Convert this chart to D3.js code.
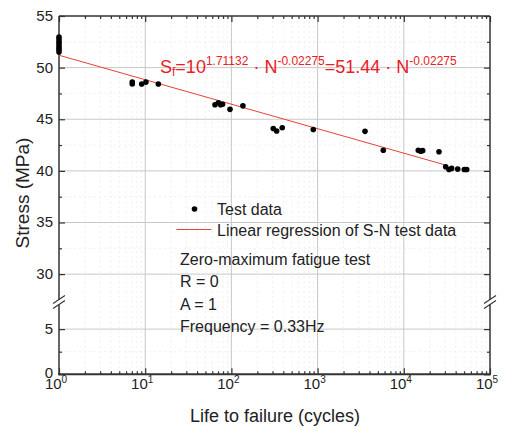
<!DOCTYPE html>
<html lang="en">
<head>
    <meta charset="UTF-8">
    <title>S-N curve</title>
    <style>
        body { margin: 0; background: #fff; }
        svg text { font-family: "Liberation Sans", Arial, sans-serif; fill: #222; }
    </style>
</head>
<body>
<div id="chart"></div>
<script src="https://cdn.jsdelivr.net/npm/d3@7"></script>
<script>
    // 数据部分
    var decades = [1, 10, 100, 1000, 10000, 100000];
    var yUpperTicks = [30, 35, 40, 45, 50, 55];
    var yLowerTicks = [0, 5];
    var testN = [1, 1, 1, 1, 1, 1, 1, 7.08, 7.08, 9.1, 10.2, 14.2, 64.5, 70.5, 75, 79, 96.3, 136,
        306, 335, 389, 891, 3548, 5780, 14730, 15700, 16560, 25600, 30600, 33400, 35900, 42200, 50300, 53700];
    var testS = [52.95, 52.7, 52.45, 52.2, 51.95, 51.75, 51.52, 48.6, 48.42, 48.41, 48.6, 48.41, 46.4, 46.6, 46.4, 46.45, 45.96, 46.3,
        44.1, 43.86, 44.18, 44.0, 43.83, 42.0, 42.0, 41.9, 41.96, 41.85, 40.4, 40.14, 40.24, 40.17, 40.14, 40.14];
    var fitN = [1, 31000];
    var fitS = [51.2, 40.55];

    var W = 505, H = 427;
    var pLeft = 59, pRight = 490, pTop = 16, pBottom = 374.3, breakY = 302;

    var svg = d3.select("#chart").append("svg").attr("width", W).attr("height", H);

    var x = d3.scaleLog().domain([1, 100000]).range([pLeft, pRight]);
    var yUp = d3.scaleLinear().domain([27.3, 55]).range([breakY, pTop]);
    var yLow = d3.scaleLinear().domain([0, 8]).range([pBottom, breakY]);
    function y(v) { return v >= 20 ? yUp(v) : yLow(v); }

    var minorX = [];
    decades.slice(0, -1).forEach(function (d) {
        for (var k = 2; k < 10; k++) minorX.push(d * k);
    });
    var minorY = [32.5, 37.5, 42.5, 47.5, 52.5, 2.5];

    // 网格
    var grid = svg.append("g");
    grid.selectAll("line.mx").data(minorX).enter().append("line")
        .attr("x1", x).attr("x2", x).attr("y1", pTop).attr("y2", pBottom)
        .attr("stroke", "#ececec").attr("stroke-width", 0.8).attr("stroke-dasharray", "2,3");
    grid.selectAll("line.my").data(minorY).enter().append("line")
        .attr("x1", pLeft).attr("x2", pRight).attr("y1", y).attr("y2", y)
        .attr("stroke", "#ececec").attr("stroke-width", 0.8).attr("stroke-dasharray", "2,3");
    grid.selectAll("line.gx").data(decades.slice(1, -1)).enter().append("line")
        .attr("x1", x).attr("x2", x).attr("y1", pTop).attr("y2", pBottom)
        .attr("stroke", "#c8c8c8").attr("stroke-width", 1);
    grid.selectAll("line.gy").data(yUpperTicks.slice(0, -1).concat([5])).enter().append("line")
        .attr("x1", pLeft).attr("x2", pRight).attr("y1", y).attr("y2", y)
        .attr("stroke", "#c8c8c8").attr("stroke-width", 1);

    // 坐标轴（刻度朝内）
    var axisColor = "#333";
    svg.append("g").attr("transform", "translate(0," + pBottom + ")")
        .call(d3.axisBottom(x).tickValues(decades).tickSize(-6).tickFormat(""));
    svg.append("g").attr("transform", "translate(0," + pBottom + ")")
        .call(d3.axisBottom(x).tickValues(minorX).tickSize(-3).tickFormat(""));
    svg.append("g").attr("transform", "translate(0," + pTop + ")")
        .call(d3.axisTop(x).tickValues(decades).tickSize(-6).tickFormat(""));
    svg.append("g").attr("transform", "translate(0," + pTop + ")")
        .call(d3.axisTop(x).tickValues(minorX).tickSize(-3).tickFormat(""));

    function yAxes(scale, ticks, minors, side) {
        var pos = side === "left" ? pLeft : pRight;
        var mk = side === "left" ? d3.axisLeft : d3.axisRight;
        svg.append("g").attr("transform", "translate(" + pos + ",0)")
            .call(mk(scale).tickValues(ticks).tickSize(-6).tickFormat(""));
        svg.append("g").attr("transform", "translate(" + pos + ",0)")
            .call(mk(scale).tickValues(minors).tickSize(-3).tickFormat(""));
    }
    ["left", "right"].forEach(function (s) {
        yAxes(yUp, yUpperTicks, minorY.slice(0, 5), s);
        yAxes(yLow, yLowerTicks, [2.5], s);
    });
    svg.selectAll(".domain").remove();
    svg.selectAll(".tick line").attr("stroke", axisColor).attr("stroke-width", 1.2);

    // 边框（左右轴在断点处断开）
    var gap = 2.5;
    var frame = svg.append("g").attr("stroke", axisColor).attr("fill", "none");
    frame.append("line").attr("x1", pLeft).attr("x2", pRight).attr("y1", pTop).attr("y2", pTop).attr("stroke-width", 1.5);
    frame.append("line").attr("x1", pLeft - 1).attr("x2", pRight + 1).attr("y1", pBottom).attr("y2", pBottom).attr("stroke-width", 2);
    [pLeft, pRight].forEach(function (px) {
        frame.append("line").attr("x1", px).attr("x2", px).attr("y1", pTop).attr("y2", breakY - gap).attr("stroke-width", 1.5);
        frame.append("line").attr("x1", px).attr("x2", px).attr("y1", breakY + gap).attr("y2", pBottom).attr("stroke-width", 1.5);
        [-gap, gap].forEach(function (o) {
            frame.append("line")
                .attr("x1", px - 6).attr("y1", breakY + o + 4)
                .attr("x2", px + 6).attr("y2", breakY + o - 4)
                .attr("stroke-width", 1.2);
        });
    });

    // 刻度标签
    svg.append("g").selectAll("text").data(yUpperTicks.concat(yLowerTicks)).enter().append("text")
        .attr("x", pLeft - 6).attr("y", function (d) { return y(d) + (d === 0 ? 4 : 5); })
        .attr("text-anchor", "end").attr("font-size", 15).text(function (d) { return d; });
    var xl = svg.append("g").selectAll("text").data(decades).enter().append("text")
        .attr("x", function (d) { return x(d) - 3; }).attr("y", pBottom + 15)
        .attr("text-anchor", "middle").attr("font-size", 15);
    xl.append("tspan").text("10");
    xl.append("tspan").attr("dy", -6).attr("font-size", 10).text(function (d) { return Math.round(Math.log10(d)); });

    svg.append("text").attr("x", 275).attr("y", 422).attr("text-anchor", "middle")
        .attr("font-size", 18).text("Life to failure (cycles)");
    svg.append("text").attr("transform", "translate(29,193) rotate(-90)").attr("text-anchor", "middle")
        .attr("font-size", 19).text("Stress (MPa)");

    // 回归线
    var line = d3.line().x(function (d) { return x(d[0]); }).y(function (d) { return y(d[1]); });
    svg.append("path").datum(d3.zip(fitN, fitS)).attr("d", line)
        .attr("stroke", "#e8413b").attr("stroke-width", 1).attr("fill", "none");

    // 数据点
    svg.append("g").selectAll("circle").data(d3.zip(testN, testS)).enter().append("circle")
        .attr("cx", function (d) { return x(d[0]); }).attr("cy", function (d) { return y(d[1]); })
        .attr("r", 2.8).attr("fill", "#000");

    // 公式
    var red = "#e8201f";
    var eq = svg.append("text").attr("x", 160).attr("y", 73).attr("font-size", 18).style("fill", red);
    eq.append("tspan").text("S");
    eq.append("tspan").attr("font-size", 12).attr("dy", 3).text("f");
    eq.append("tspan").attr("dy", -3).text("=10");
    eq.append("tspan").attr("font-size", 12).attr("dy", -8).text("1.71132");
    eq.append("tspan").attr("dy", 8).text(" \u00b7 N");
    eq.append("tspan").attr("font-size", 12).attr("dy", -8).text("-0.02275");
    eq.append("tspan").attr("dy", 8).text("=51.44 \u00b7 N");
    eq.append("tspan").attr("font-size", 12).attr("dy", -8).text("-0.02275");

    // 图例
    svg.append("circle").attr("cx", 194.5).attr("cy", 209).attr("r", 2.8).attr("fill", "#000");
    svg.append("text").attr("x", 217).attr("y", 215).attr("font-size", 16).text("Test data");
    svg.append("line").attr("x1", 176.5).attr("x2", 211.5).attr("y1", 229.5).attr("y2", 229.5)
        .attr("stroke", "#e8413b").attr("stroke-width", 1);
    svg.append("text").attr("x", 217).attr("y", 236).attr("font-size", 16).text("Linear regression of S-N test data");

    var notes = ["Zero-maximum fatigue test", "R = 0", "A = 1", "Frequency = 0.33Hz"];
    svg.append("g").selectAll("text").data(notes).enter().append("text")
        .attr("x", 180).attr("y", function (d, i) { return 265 + i * 22.3; })
        .attr("font-size", 16).text(function (d) { return d; });
</script>
</body>
</html>
